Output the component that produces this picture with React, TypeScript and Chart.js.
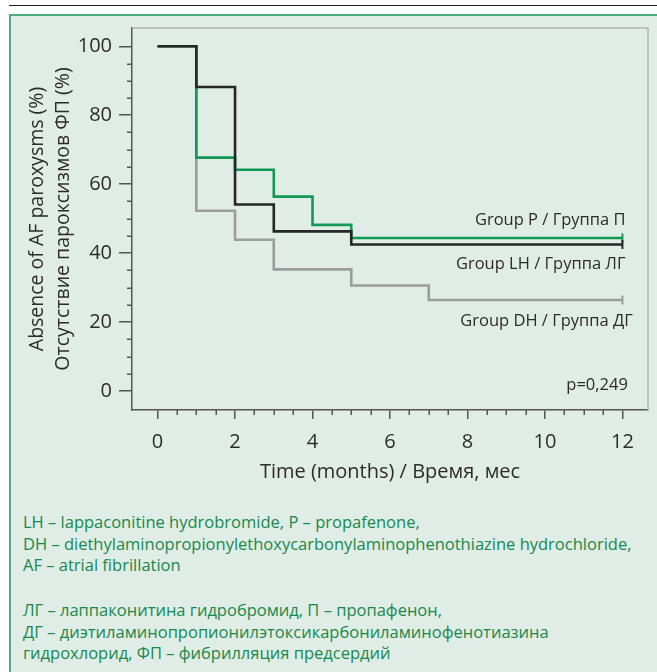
import React, { useEffect, useRef } from "react";
import { Chart, registerables } from "chart.js";

Chart.register(...registerables);

// ---- data ----
const lhTimes = [0, 1, 2, 3, 5, 12];
const lhValues = [100, 88.2, 54.1, 46.3, 42.5, 42.5];
const pTimes = [0, 1, 2, 3, 4, 5, 12];
const pValues = [100, 67.7, 64.2, 56.4, 48.2, 44.4, 44.4];
const dhTimes = [0, 1, 2, 3, 5, 7, 12];
const dhValues = [100, 52.3, 43.9, 35.3, 30.6, 26.4, 26.4];

const seriesNames = ["Group LH / Группа ЛГ", "Group P / Группа П", "Group DH / Группа ДГ"];

const xTickValues = [0, 2, 4, 6, 8, 10, 12];
const xMinorTicks = [0.5, 1, 1.5, 2.5, 3, 3.5, 4.5, 5, 5.5, 6.5, 7, 7.5, 8.5, 9, 9.5, 10.5, 11, 11.5];
const yTickValues = [0, 20, 40, 60, 80, 100];
const yMinorTicks = [5, 10, 15, 25, 30, 35, 45, 50, 55, 65, 70, 75, 85, 90, 95];

const xTitle = "Time (months) / Время, мес";
const yTitle = ["Absence of AF paroxysms (%)", "Отсутствие пароксизмов ФП (%)"];
const pValueText = "p=0,249";

// annotation anchors in data units (right-aligned text)
const labelTexts = ["Group P / Группа П", "Group LH / Группа ЛГ", "Group DH / Группа ДГ", pValueText];
const labelX = [12.08, 12.08, 12.27, 12.14];
const labelY = [49.6, 36.8, 20.1, 1.7];

const footEn = [
  "LH – lappaconitine hydrobromide, P – propafenone,",
  "DH – diethylaminopropionylethoxycarbonylaminophenothiazine hydrochloride,",
  "AF – atrial fibrillation",
];
const footRu = [
  "ЛГ – лаппаконитина гидробромид, П – пропафенон,",
  "ДГ – диэтиламинопропионилэтоксикарбониламинофенотиазина",
  "гидрохлорид, ФП – фибрилляция предсердий",
];

const FONT = '"Open Sans", "Noto Sans", sans-serif';
const TEXT = "#2b2b2b";
const AXIS = "#555555";
const FRAME = "#b3b3b3";
const BLACK = "#262626";
const GREEN = "#129a55";
const GREY = "#9c9c9c";

function toPoints(t: number[], v: number[]) {
  return t.map((x, i) => ({ x, y: v[i] }));
}

const framePlugin = {
  id: "frameAndMinor",
  beforeDatasetsDraw(chart: any) {
    const { ctx, chartArea } = chart;
    ctx.save();
    ctx.strokeStyle = FRAME;
    ctx.lineWidth = 1.5;
    ctx.beginPath();
    ctx.moveTo(chartArea.left, chartArea.top);
    ctx.lineTo(chartArea.right, chartArea.top);
    ctx.lineTo(chartArea.right, chartArea.bottom);
    ctx.stroke();
    ctx.restore();
  },
  afterDraw(chart: any) {
    const { ctx, chartArea, scales } = chart;
    ctx.save();
    ctx.strokeStyle = AXIS;
    ctx.lineWidth = 1.5;
    ctx.beginPath();
    xMinorTicks.forEach((v) => {
      const px = Math.round(scales.x.getPixelForValue(v)) + 0.25;
      ctx.moveTo(px, chartArea.bottom);
      ctx.lineTo(px, chartArea.bottom + 5);
    });
    yMinorTicks.forEach((v) => {
      const py = Math.round(scales.y.getPixelForValue(v)) + 0.25;
      ctx.moveTo(chartArea.left - 5, py);
      ctx.lineTo(chartArea.left, py);
    });
    ctx.stroke();

    ctx.fillStyle = TEXT;
    ctx.font = `16.5px ${FONT}`;
    ctx.textAlign = "right";
    ctx.textBaseline = "middle";
    labelTexts.forEach((t, i) => {
      ctx.fillText(t, scales.x.getPixelForValue(labelX[i]), scales.y.getPixelForValue(labelY[i]));
    });
    ctx.restore();
  },
};

export default function App() {
  const ref = useRef<HTMLCanvasElement | null>(null);

  useEffect(() => {
    if (!ref.current) return;
    const mk = (t: number[], v: number[], color: string, name: string) => ({
      label: name,
      data: toPoints(t, v),
      borderColor: color,
      backgroundColor: color,
      borderWidth: 2.6,
      stepped: "before" as const,
      fill: false,
      pointStyle: "line" as const,
      rotation: 90,
      pointBorderColor: color,
      pointBorderWidth: 2,
      pointRadius: (c: any) => (c.dataIndex === t.length - 1 ? 4.5 : 0),
      pointHoverRadius: 0,
    });
    const chart = new Chart(ref.current, {
      type: "line",
      data: {
        datasets: [
          mk(lhTimes, lhValues, BLACK, seriesNames[0]),
          mk(pTimes, pValues, GREEN, seriesNames[1]),
          mk(dhTimes, dhValues, GREY, seriesNames[2]),
        ],
      },
      options: {
        responsive: false,
        animation: false,
        layout: { padding: { top: 28, right: 9, left: 0, bottom: 0 } },
        plugins: { legend: { display: false }, tooltip: { enabled: false } },
        scales: {
          x: {
            type: "linear",
            min: -0.66,
            max: 12.66,
            afterFit: (s: any) => {
              s.height = 90;
            },
            afterBuildTicks: (s: any) => {
              s.ticks = xTickValues.map((v) => ({ value: v }));
            },
            grid: { display: true, drawOnChartArea: false, drawTicks: true, tickLength: 9, color: AXIS, lineWidth: 1.5 },
            border: { display: true, color: AXIS, width: 1.5 },
            ticks: { padding: 11, color: TEXT, font: { family: FONT, size: 20 }, maxRotation: 0 },
            title: { display: true, text: xTitle, color: TEXT, font: { family: FONT, size: 20 }, padding: { top: 0, bottom: 16 } },
          },
          y: {
            type: "linear",
            min: -5.5,
            max: 105.3,
            afterFit: (s: any) => {
              s.width = 132;
            },
            afterBuildTicks: (s: any) => {
              s.ticks = yTickValues.map((v) => ({ value: v }));
            },
            grid: { display: true, drawOnChartArea: false, drawTicks: true, tickLength: 13, color: AXIS, lineWidth: 1.5 },
            border: { display: true, color: AXIS, width: 1.5 },
            ticks: { padding: 7, color: TEXT, font: { family: FONT, size: 20 } },
            title: {
              display: true,
              text: yTitle,
              color: TEXT,
              font: { family: FONT, size: 19.5, lineHeight: 26 / 19.5 },
              padding: { top: 24, bottom: 0 },
            },
          },
        },
      },
      plugins: [framePlugin],
    });
    return () => chart.destroy();
  }, []);

  const footStyle: React.CSSProperties = {
    position: "absolute",
    left: 23,
    fontFamily: FONT,
    fontSize: 16.5,
    lineHeight: "21.5px",
    color: "#17894c",
    whiteSpace: "nowrap",
  };

  return (
    <div style={{ position: "absolute", left: 0, top: 0, width: 657, height: 672, overflow: "hidden", background: "#ffffff" }}>
      <div style={{ position: "absolute", left: 9, right: 0, top: 4.5, height: 1.5, background: "#1e1e1e" }} />
      <div
        style={{
          position: "absolute",
          left: 9,
          top: 14,
          right: 0,
          bottom: 0,
          background: "#e0ede6",
          borderLeft: "2px solid #4daa7c",
          borderTop: "2px solid #4daa7c",
        }}
      />
      <canvas ref={ref} width={657} height={500} style={{ position: "absolute", left: 0, top: 0 }} />
      <div style={{ ...footStyle, top: 511 }}>
        {footEn.map((l, i) => (
          <div key={i}>{l}</div>
        ))}
      </div>
      <div style={{ ...footStyle, top: 599 }}>
        {footRu.map((l, i) => (
          <div key={i}>{l}</div>
        ))}
      </div>
    </div>
  );
}
